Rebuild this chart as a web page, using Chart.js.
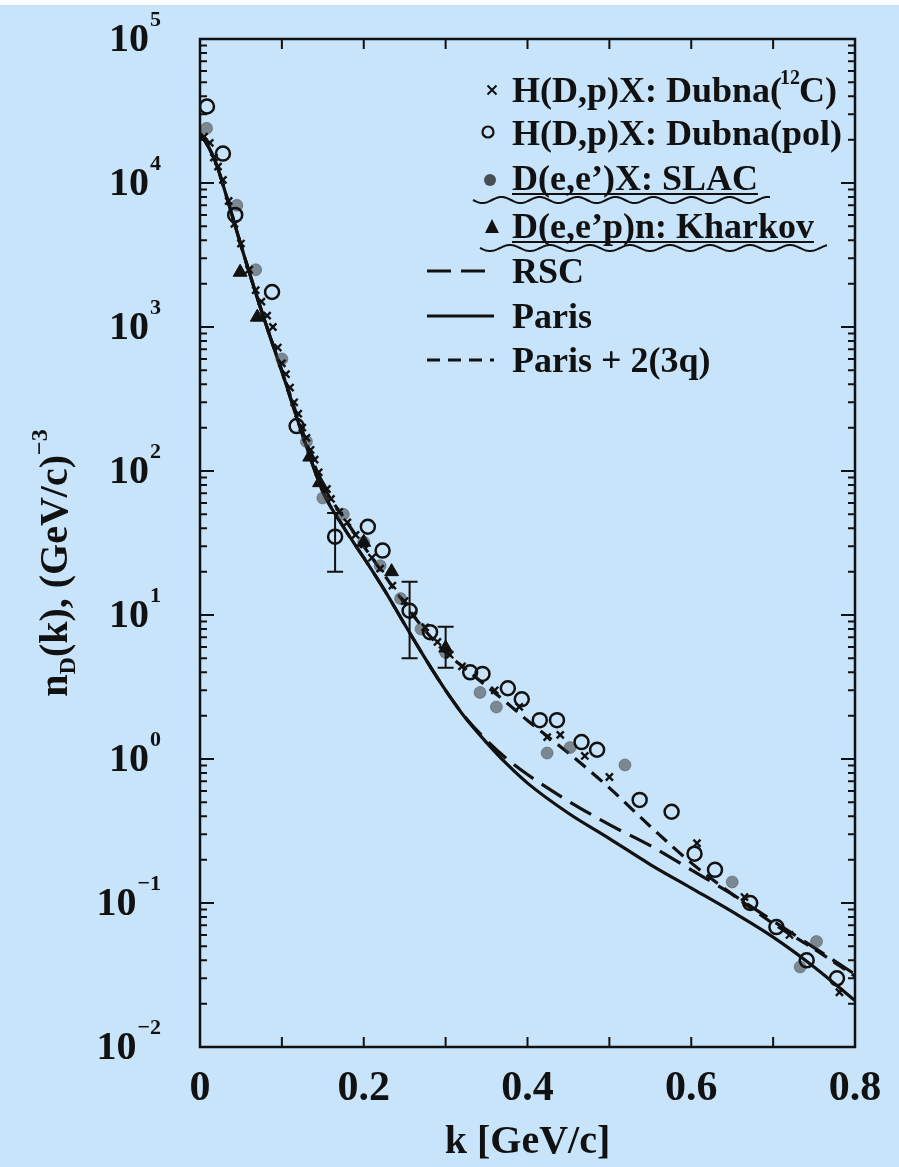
<!DOCTYPE html>
<html>
<head>
<meta charset="utf-8">
<script src="https://cdn.jsdelivr.net/npm/chart.js@4.4.0/dist/chart.umd.min.js"></script>
<style>
  html, body { margin: 0; padding: 0; background: #c8e4fa; }
  #wrap { width: 899px; height: 1167px; }
</style>
</head>
<body>
<div id="wrap"><canvas id="chart" width="899" height="1167"></canvas></div>
<script>
// momentum grid for the model curves, GeV/c
const kCurve = [0, 0.01, 0.02, 0.035, 0.05, 0.075, 0.1, 0.125, 0.15, 0.175, 0.2, 0.225, 0.25, 0.275, 0.3, 0.325, 0.35, 0.375, 0.4, 0.45, 0.5, 0.55, 0.6, 0.65, 0.7, 0.75, 0.8];
const nRSC     = [22000, 18000, 13500, 7200, 3700, 1300, 490, 180, 72, 41, 25, 15, 8.6, 5.0, 3.0, 1.92, 1.35, 1.0, 0.78, 0.51, 0.35, 0.25, 0.17, 0.115, 0.075, 0.049, 0.032];
const nParis   = [22000, 18000, 13500, 7200, 3700, 1300, 490, 180, 72, 41, 25, 15, 8.6, 5.0, 3.0, 1.9, 1.3, 0.92, 0.68, 0.42, 0.28, 0.185, 0.127, 0.087, 0.058, 0.036, 0.021];
const nParis3q = [22000, 18000, 13500, 7200, 3700, 1300, 500, 190, 80, 48, 30, 19, 12, 7.8, 5.5, 4.2, 3.2, 2.45, 1.85, 1.1, 0.63, 0.34, 0.19, 0.115, 0.072, 0.048, 0.031];

// H(D,p)X Dubna, 12C target
const kDubnaC = [0.005, 0.012, 0.017, 0.022, 0.028, 0.035, 0.042, 0.05, 0.06, 0.068, 0.075, 0.082, 0.089, 0.095, 0.1, 0.105, 0.11, 0.115, 0.12, 0.125, 0.13, 0.135, 0.14, 0.145, 0.155, 0.16, 0.17, 0.18, 0.19, 0.2, 0.21, 0.22, 0.235, 0.25, 0.26, 0.275, 0.29, 0.305, 0.32, 0.36, 0.39, 0.424, 0.44, 0.47, 0.5, 0.607, 0.665, 0.72, 0.781];
const nDubnaC = [21000, 19000, 15000, 13000, 10500, 7500, 5200, 3800, 2500, 1800, 1500, 1200, 1000, 720, 560, 470, 380, 300, 250, 200, 170, 140, 120, 98, 75, 64, 52, 44, 36, 31, 25, 21, 16, 12.5, 10, 8.2, 6.5, 5.3, 4.4, 3.0, 2.3, 1.42, 1.47, 1.05, 0.75, 0.26, 0.11, 0.06, 0.024];

// H(D,p)X Dubna, polarized
const kDubnaPol = [0.0085, 0.028, 0.043, 0.088, 0.118, 0.165, 0.205, 0.223, 0.256, 0.281, 0.33, 0.345, 0.376, 0.393, 0.415, 0.436, 0.466, 0.485, 0.537, 0.576, 0.604, 0.629, 0.672, 0.704, 0.741, 0.778];
const nDubnaPol = [34000, 16000, 6000, 1750, 205, 35, 41, 28, 10.7, 7.6, 4.0, 3.9, 3.1, 2.6, 1.86, 1.86, 1.31, 1.16, 0.52, 0.43, 0.22, 0.17, 0.10, 0.068, 0.040, 0.030];

// D(e,e')X SLAC
const kSLAC = [0.008, 0.045, 0.068, 0.1, 0.13, 0.15, 0.175, 0.2, 0.22, 0.245, 0.27, 0.3, 0.342, 0.362, 0.424, 0.452, 0.519, 0.65, 0.733, 0.753];
const nSLAC = [24000, 7000, 2500, 600, 160, 65, 50, 32, 22, 13, 8, 5.5, 2.9, 2.3, 1.1, 1.2, 0.91, 0.14, 0.036, 0.054];

// D(e,e'p)n Kharkov
const kKharkov = [0.049, 0.07, 0.134, 0.146, 0.2, 0.234, 0.30];
const nKharkov = [2400, 1170, 125, 83, 32, 20, 5.9];

// error bars
const errK  = [0.165, 0.256, 0.30];
const errLo = [20, 5.0, 4.3];
const errHi = [51, 17, 8.3];

const kTicks = [0, 0.1, 0.2, 0.3, 0.4, 0.5, 0.6, 0.7, 0.8];
const yDecades = [-2, -1, 0, 1, 2, 3, 4, 5];

const FONT = "'Liberation Serif', 'Times New Roman', serif";
const INK = '#111111';
const BG = '#c8e4fa';

const pts = (xs, ys) => xs.map((x, i) => ({ x: x, y: ys[i] }));

function curve(label, ys, dash) {
  return {
    type: 'line', label: label, data: pts(kCurve, ys),
    borderColor: INK, borderWidth: 3.2, borderDash: dash,
    pointRadius: 0, fill: false, cubicInterpolationMode: 'monotone', order: 2
  };
}

// y ticks: 1..9 per decade
const yTicks = [];
yDecades.forEach(e => {
  for (let m = 1; m <= 9; m++) {
    if (e === yDecades[yDecades.length - 1] && m > 1) break;
    yTicks.push(m * Math.pow(10, e));
  }
});

const isDecade = v => Math.abs(Math.log10(v) - Math.round(Math.log10(v))) < 1e-9;

function drawCross(ctx, x, y, r) {
  ctx.beginPath();
  ctx.moveTo(x - r, y - r); ctx.lineTo(x + r, y + r);
  ctx.moveTo(x + r, y - r); ctx.lineTo(x - r, y + r);
  ctx.stroke();
}

function wavy(ctx, x0, x1, y, amp, wl) {
  ctx.beginPath();
  for (let x = x0; x <= x1; x += 1) {
    const yy = y + amp * Math.sin((x - x0) / wl * Math.PI * 2);
    if (x === x0) ctx.moveTo(x, yy); else ctx.lineTo(x, yy);
  }
  ctx.stroke();
}

const decorPlugin = {
  id: 'decor',
  beforeDraw(chart) {
    const ctx = chart.ctx;
    ctx.save();
    ctx.fillStyle = '#ffffff';
    ctx.fillRect(0, 0, chart.width, 5);
    ctx.fillStyle = BG;
    ctx.fillRect(0, 5, chart.width, chart.height - 5);
    ctx.restore();
  },
  afterDatasetsDraw(chart) {
    const ctx = chart.ctx, xs = chart.scales.x, ys = chart.scales.y;
    ctx.save();
    ctx.strokeStyle = INK;
    ctx.lineWidth = 2;
    errK.forEach((k, i) => {
      const x = xs.getPixelForValue(k);
      const yl = ys.getPixelForValue(errLo[i]);
      const yh = ys.getPixelForValue(errHi[i]);
      ctx.beginPath();
      ctx.moveTo(x, yl); ctx.lineTo(x, yh);
      ctx.moveTo(x - 8, yl); ctx.lineTo(x + 8, yl);
      ctx.moveTo(x - 8, yh); ctx.lineTo(x + 8, yh);
      ctx.stroke();
    });
    ctx.restore();
  },
  afterDraw(chart) {
    const ctx = chart.ctx, a = chart.chartArea;
    const xs = chart.scales.x, ys = chart.scales.y;
    ctx.save();
    ctx.strokeStyle = INK;
    ctx.fillStyle = INK;

    // frame
    ctx.lineWidth = 2.5;
    ctx.strokeRect(a.left, a.top, a.right - a.left, a.bottom - a.top);

    // inward ticks
    ctx.lineWidth = 2;
    ctx.beginPath();
    xs.ticks.forEach(t => {
      const x = xs.getPixelForValue(t.value);
      ctx.moveTo(x, a.bottom); ctx.lineTo(x, a.bottom - 10);
      ctx.moveTo(x, a.top); ctx.lineTo(x, a.top + 10);
    });
    ys.ticks.forEach(t => {
      const y = ys.getPixelForValue(t.value);
      const len = isDecade(t.value) ? 14 : 7;
      ctx.moveTo(a.left, y); ctx.lineTo(a.left + len, y);
      ctx.moveTo(a.right, y); ctx.lineTo(a.right - len, y);
    });
    ctx.stroke();

    // decade labels 10^n
    ys.ticks.forEach(t => {
      if (!isDecade(t.value)) return;
      const e = Math.round(Math.log10(t.value));
      const y = ys.getPixelForValue(t.value);
      const sup = e < 0 ? '\u2212' + (-e) : String(e);
      ctx.textAlign = 'right';
      ctx.textBaseline = 'middle';
      ctx.font = 'bold 22px ' + FONT;
      const sw = ctx.measureText(sup).width;
      ctx.fillText(sup, 161, y - 19);
      ctx.font = 'bold 40px ' + FONT;
      ctx.fillText('10', 161 - sw - 1, y + 2);
    });

    // y axis title, rotated
    ctx.save();
    ctx.translate(67, 563);
    ctx.rotate(-Math.PI / 2);
    ctx.textAlign = 'left';
    ctx.textBaseline = 'alphabetic';
    const parts = [
      ['n', 40, 0], ['D', 24, 8], ['(k), (GeV/c)', 40, 0], ['\u22123', 24, -20]
    ];
    let total = 0;
    parts.forEach(p => { ctx.font = 'bold ' + p[1] + 'px ' + FONT; total += ctx.measureText(p[0]).width; });
    let px = -total / 2;
    parts.forEach(p => {
      ctx.font = 'bold ' + p[1] + 'px ' + FONT;
      ctx.fillText(p[0], px, p[2]);
      px += ctx.measureText(p[0]).width;
    });
    ctx.restore();

    // legend
    const tx = 512;
    ctx.textAlign = 'left';
    ctx.textBaseline = 'alphabetic';
    ctx.font = 'bold 36px ' + FONT;

    // row 1: crosses
    ctx.lineWidth = 2;
    drawCross(ctx, 492, 90, 4.5);
    let s1 = 'H(D,p)X: Dubna(';
    ctx.fillText(s1, tx, 102);
    let w = ctx.measureText(s1).width;
    ctx.font = 'bold 20px ' + FONT;
    ctx.fillText('12', tx + w - 2, 84);
    const w12 = ctx.measureText('12').width;
    ctx.font = 'bold 36px ' + FONT;
    ctx.fillText('C)', tx + w + w12 - 3, 102);

    // row 2: open circles
    ctx.lineWidth = 2.2;
    ctx.beginPath(); ctx.arc(488, 132, 5.5, 0, Math.PI * 2); ctx.stroke();
    ctx.fillText('H(D,p)X: Dubna(pol)', tx, 145);

    // row 3: SLAC
    ctx.fillStyle = 'rgba(40,40,40,0.8)';
    ctx.beginPath(); ctx.arc(490, 180, 6, 0, Math.PI * 2); ctx.fill();
    ctx.fillStyle = INK;
    const s3 = 'D(e,e\u2019)X: SLAC';
    ctx.fillText(s3, tx, 190);
    ctx.lineWidth = 2;
    ctx.beginPath(); ctx.moveTo(tx, 194); ctx.lineTo(tx + ctx.measureText(s3).width, 194); ctx.stroke();
    wavy(ctx, 473, 770, 200, 3, 38);

    // row 4: Kharkov
    ctx.beginPath();
    ctx.moveTo(492, 219); ctx.lineTo(499, 233); ctx.lineTo(485, 233); ctx.closePath(); ctx.fill();
    const s4 = 'D(e,e\u2019p)n: Kharkov';
    ctx.fillText(s4, tx, 238);
    ctx.beginPath(); ctx.moveTo(tx, 242); ctx.lineTo(tx + ctx.measureText(s4).width, 242); ctx.stroke();
    wavy(ctx, 480, 827, 248, 3, 40);

    // model curves
    const lines = [['RSC', [24, 10], 283], ['Paris', [], 328], ['Paris + 2(3q)', [13, 8], 372]];
    lines.forEach(l => {
      ctx.lineWidth = 3.2;
      ctx.setLineDash(l[1]);
      ctx.beginPath(); ctx.moveTo(427, l[2] - 12); ctx.lineTo(494, l[2] - 12); ctx.stroke();
      ctx.setLineDash([]);
      ctx.fillText(l[0], tx, l[2]);
    });

    ctx.restore();
  }
};

new Chart(document.getElementById('chart'), {
  type: 'scatter',
  data: {
    datasets: [
      curve('RSC', nRSC, [24, 10]),
      curve('Paris', nParis, []),
      curve('Paris + 2(3q)', nParis3q, [14, 8]),
      {
        label: 'H(D,p)X: Dubna(12C)', data: pts(kDubnaC, nDubnaC),
        pointStyle: 'crossRot', pointRadius: 5, borderWidth: 2.4, borderColor: INK, order: 1
      },
      {
        label: 'D(e,e\u2019)X: SLAC', data: pts(kSLAC, nSLAC),
        pointStyle: 'circle', pointRadius: 6, borderWidth: 1,
        backgroundColor: 'rgba(60,60,60,0.55)', borderColor: 'rgba(60,60,60,0.4)', order: 1
      },
      {
        label: 'H(D,p)X: Dubna(pol)', data: pts(kDubnaPol, nDubnaPol),
        pointStyle: 'circle', pointRadius: 7, borderWidth: 2.5,
        backgroundColor: 'rgba(0,0,0,0)', borderColor: INK, order: 0
      },
      {
        label: 'D(e,e\u2019p)n: Kharkov', data: pts(kKharkov, nKharkov),
        pointStyle: 'triangle', pointRadius: 8, borderWidth: 1,
        backgroundColor: INK, borderColor: INK, order: 0
      }
    ]
  },
  options: {
    responsive: false,
    animation: false,
    events: [],
    layout: { padding: { top: 39, right: 44, left: 0, bottom: 0 } },
    plugins: { legend: { display: false }, tooltip: { enabled: false } },
    scales: {
      x: {
        type: 'linear', min: 0, max: 0.8,
        afterBuildTicks: s => { s.ticks = kTicks.map(v => ({ value: v })); },
        afterFit: s => { s.height = 120; },
        grid: { display: false },
        border: { display: false },
        ticks: {
          autoSkip: false, maxRotation: 0, padding: 9, color: INK,
          font: { family: FONT, weight: 'bold', size: 42 },
          callback: v => (Math.round(v * 10) % 2 === 0 ? (v === 0 ? '0' : v.toFixed(1)) : '')
        },
        title: {
          display: true, text: 'k [GeV/c]', color: INK,
          font: { family: FONT, weight: 'bold', size: 40 },
          padding: { top: 0, bottom: 0 }
        }
      },
      y: {
        type: 'logarithmic', min: 1e-2, max: 1e5,
        afterBuildTicks: s => { s.ticks = yTicks.map(v => ({ value: v })); },
        afterFit: s => { s.width = 200; },
        grid: { display: false },
        border: { display: false },
        ticks: { display: false }
      }
    }
  },
  plugins: [decorPlugin]
});
</script>
</body>
</html>
